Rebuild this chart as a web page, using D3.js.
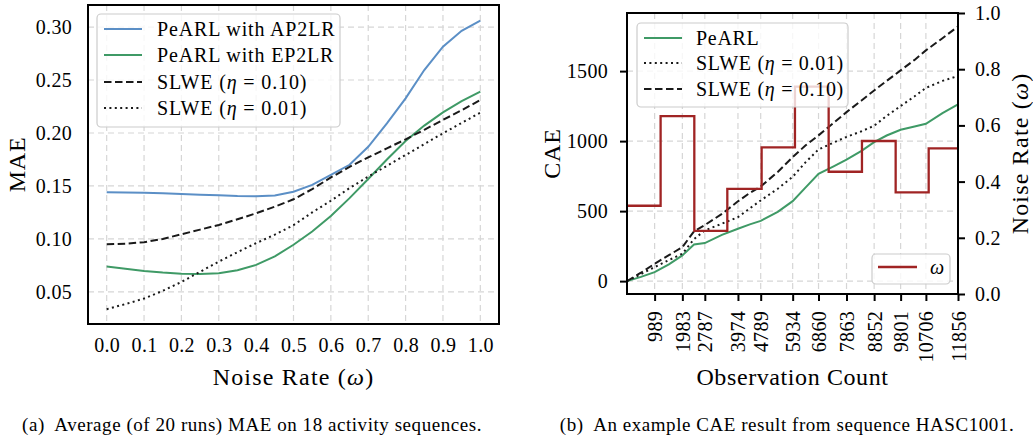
<!DOCTYPE html>
<html>
<head>
<meta charset="utf-8">
<script src="https://cdn.jsdelivr.net/npm/d3@7"></script>
<style>
  body { margin: 0; background: #fff; }
  svg text { font-family: "Liberation Serif", "LiberationSerif", "Tinos", "Nimbus Roman", "DejaVu Serif", serif; fill: #000; }
</style>
</head>
<body>
<div id="chart"></div>
<script>
// ---- left panel: MAE vs noise rate ----
const noiseRates = [0, 0.05, 0.1, 0.15, 0.2, 0.25, 0.3, 0.35, 0.4, 0.45, 0.5, 0.55, 0.6, 0.65, 0.7, 0.75, 0.8, 0.85, 0.9, 0.95, 1.0];
const maeAP2LR = [0.1440, 0.1438, 0.1435, 0.1430, 0.1425, 0.1418, 0.1412, 0.1405, 0.1402, 0.1410, 0.1446, 0.1510, 0.1604, 0.1700, 0.1870, 0.2090, 0.2327, 0.2594, 0.2814, 0.2965, 0.3060];
const maeEP2LR = [0.0739, 0.0718, 0.0698, 0.0683, 0.0672, 0.0668, 0.0676, 0.0705, 0.0755, 0.0835, 0.0945, 0.1070, 0.1217, 0.1385, 0.1565, 0.1750, 0.1925, 0.2070, 0.2195, 0.2300, 0.2390];
const maeSlwe010 = [0.0950, 0.0955, 0.0969, 0.1000, 0.1044, 0.1088, 0.1132, 0.1185, 0.1242, 0.1305, 0.1374, 0.1470, 0.1580, 0.1680, 0.1770, 0.1855, 0.1940, 0.2030, 0.2123, 0.2215, 0.2311];
const maeSlwe001 = [0.0337, 0.0385, 0.0437, 0.0510, 0.0594, 0.0690, 0.0786, 0.0875, 0.0960, 0.1040, 0.1130, 0.1250, 0.1360, 0.1480, 0.1588, 0.1690, 0.1792, 0.1895, 0.1997, 0.2095, 0.2192];
const maeTicks = [0.05, 0.10, 0.15, 0.20, 0.25, 0.30];
const noiseTicks = [0, 0.1, 0.2, 0.3, 0.4, 0.5, 0.6, 0.7, 0.8, 0.9, 1.0];

// ---- right panel: CAE vs observation count ----
const obsCount = [0, 500, 989, 1500, 1983, 2400, 2787, 3400, 3974, 4400, 4789, 5400, 5934, 6400, 6860, 7400, 7863, 8400, 8852, 9300, 9801, 10300, 10706, 11300, 11856];
const caePeARL = [0, 30, 64, 120, 184, 262, 272, 330, 374, 405, 430, 495, 571, 670, 767, 820, 867, 930, 993, 1040, 1081, 1105, 1124, 1200, 1262];
const caeSlwe001 = [0, 50, 100, 150, 196, 300, 362, 410, 457, 520, 576, 660, 745, 850, 940, 990, 1030, 1070, 1110, 1180, 1250, 1320, 1380, 1430, 1465];
const caeSlwe010 = [0, 60, 124, 185, 243, 355, 400, 480, 570, 630, 676, 780, 886, 970, 1041, 1130, 1207, 1290, 1362, 1430, 1505, 1580, 1648, 1735, 1819];
const stepBounds = [0, 1204, 2411, 3593, 4822, 6016, 7223, 8416, 9623, 10806, 11856];
const stepNoise = [0.314, 0.633, 0.225, 0.374, 0.522, 0.738, 0.435, 0.5445, 0.362, 0.5185];
const obsTicks = [989, 1983, 2787, 3974, 4789, 5934, 6860, 7863, 8852, 9801, 10706, 11856];
const caeTicks = [0, 500, 1000, 1500];
const rateTicks = [0, 0.2, 0.4, 0.6, 0.8, 1.0];

const BLUE = "#5b8fc6", GREEN = "#3f9a66", RED = "#a02424", BLACK = "#1a1a1a", GRID = "#d6d6d6";
const SERIF = '"Liberation Serif", "LiberationSerif", "Tinos", "Nimbus Roman", "DejaVu Serif", serif';

const svg = d3.select("#chart").append("svg")
    .attr("width", 1033)
    .attr("height", 436)
    .style("font-family", SERIF);

const fmt2 = d3.format(".2f"), fmt1 = d3.format(".1f");

function addLegend(g, x0, y0, w, h, items, spacing) {
    g.append("rect")
        .attr("x", x0).attr("y", y0).attr("width", w).attr("height", h)
        .attr("rx", 4)
        .attr("fill", "white").attr("fill-opacity", 0.8)
        .attr("stroke", "#cccccc").attr("stroke-width", 1.2);
    items.forEach(it => {
        g.append("line")
            .attr("x1", it.hx1).attr("x2", it.hx2).attr("y1", it.y).attr("y2", it.y)
            .attr("stroke", it.color).attr("stroke-width", it.width || 2)
            .attr("stroke-dasharray", it.dash || null);
        const t = g.append("text")
            .attr("x", it.tx).attr("y", it.y)
            .attr("dy", "0.35em")
            .style("font-family", SERIF)
            .style("font-size", "20px")
            .style("letter-spacing", spacing + "px");
        it.parts.forEach(p => t.append("tspan").style("font-style", p.italic ? "italic" : null).text(p.s));
    });
}

// ================= LEFT =================
(function () {
    const left = 88, right = 499, top = 5, bottom = 324;
    const x = d3.scaleLinear().domain([-0.05, 1.05]).range([left, right]);
    const y = d3.scaleLinear().domain([0.0197, 0.3208]).range([bottom, top]);
    const g = svg.append("g");

    // grid
    g.selectAll(".vg").data(noiseTicks).join("line")
        .attr("x1", d => x(d)).attr("x2", d => x(d)).attr("y1", top).attr("y2", bottom)
        .attr("stroke", GRID).attr("stroke-width", 1.2).attr("stroke-dasharray", "6,4");
    g.selectAll(".hg").data(maeTicks).join("line")
        .attr("x1", left).attr("x2", right).attr("y1", d => y(d)).attr("y2", d => y(d))
        .attr("stroke", GRID).attr("stroke-width", 1.2).attr("stroke-dasharray", "6,4");

    const line = vals => d3.line().x((d, i) => x(noiseRates[i])).y(d => y(d))(vals);
    const series = [
        { v: maeAP2LR, c: BLUE, dash: null },
        { v: maeEP2LR, c: GREEN, dash: null },
        { v: maeSlwe010, c: BLACK, dash: "7.5,3.5" },
        { v: maeSlwe001, c: BLACK, dash: "2,3.4" }
    ];
    series.forEach(s => {
        g.append("path").attr("d", line(s.v)).attr("fill", "none")
            .attr("stroke", s.c).attr("stroke-width", 2)
            .attr("stroke-dasharray", s.dash);
    });

    // frame
    g.append("rect").attr("x", left).attr("y", top).attr("width", right - left).attr("height", bottom - top)
        .attr("fill", "none").attr("stroke", "#000").attr("stroke-width", 2);

    // axes (no tick marks)
    const xa = g.append("g").attr("transform", `translate(0,${bottom})`)
        .call(d3.axisBottom(x).tickValues(noiseTicks).tickFormat(fmt1).tickSize(0).tickPadding(14));
    const ya = g.append("g").attr("transform", `translate(${left},0)`)
        .call(d3.axisLeft(y).tickValues(maeTicks).tickFormat(fmt2).tickSize(0).tickPadding(16));
    [xa, ya].forEach(a => {
        a.attr("font-family", null).attr("font-size", null);
        a.select(".domain").remove();
        a.selectAll("text").style("font-size", "20px").style("font-family", SERIF).style("letter-spacing", "0.3px");
    });

    const xl = g.append("text").attr("x", (left + right) / 2).attr("y", 385)
        .attr("text-anchor", "middle").style("font-size", "24px").style("letter-spacing", "1.2px");
    xl.append("tspan").text("Noise Rate (");
    xl.append("tspan").style("font-style", "italic").text("ω");
    xl.append("tspan").text(")");

    g.append("text").attr("transform", `translate(25,${(top + bottom) / 2}) rotate(-90)`)
        .attr("text-anchor", "middle").style("font-size", "24px").style("letter-spacing", "0.8px").text("MAE");

    addLegend(g, 97, 14, 243, 113, [
        { y: 29, hx1: 104, hx2: 142, tx: 157, color: BLUE, parts: [{ s: "PeARL with AP2LR" }] },
        { y: 55, hx1: 104, hx2: 142, tx: 157, color: GREEN, parts: [{ s: "PeARL with EP2LR" }] },
        { y: 82, hx1: 104, hx2: 142, tx: 157, color: BLACK, dash: "7.5,3.5", parts: [{ s: "SLWE (" }, { s: "η", italic: true }, { s: " = 0.10)" }] },
        { y: 108, hx1: 104, hx2: 142, tx: 157, color: BLACK, dash: "2,3.4", parts: [{ s: "SLWE (" }, { s: "η", italic: true }, { s: " = 0.01)" }] }
    ], 0.85);

    g.append("text").attr("x", 252).attr("y", 431).attr("text-anchor", "middle")
        .style("font-size", "19px").style("letter-spacing", "0.55px").style("white-space", "pre")
        .text("(a)  Average (of 20 runs) MAE on 18 activity sequences.");
})();

// ================= RIGHT =================
(function () {
    const left = 627, right = 958, top = 13, bottom = 294;
    const x = d3.scaleLinear().domain([0, 11856]).range([left, right]);
    const y = d3.scaleLinear().domain([-92, 1915]).range([bottom, top]);
    const y2 = d3.scaleLinear().domain([0, 1]).range([bottom, top]);
    const g = svg.append("g");

    g.selectAll(".vg").data(obsTicks).join("line")
        .attr("x1", d => x(d)).attr("x2", d => x(d)).attr("y1", top).attr("y2", bottom)
        .attr("stroke", GRID).attr("stroke-width", 1.2).attr("stroke-dasharray", "6,4");
    g.selectAll(".hg").data(caeTicks).join("line")
        .attr("x1", left).attr("x2", right).attr("y1", d => y(d)).attr("y2", d => y(d))
        .attr("stroke", GRID).attr("stroke-width", 1.2).attr("stroke-dasharray", "6,4");

    const line = vals => d3.line().x((d, i) => x(obsCount[i])).y(d => y(d))(vals);
    [
        { v: caePeARL, c: GREEN, dash: null },
        { v: caeSlwe001, c: BLACK, dash: "2,3.4" },
        { v: caeSlwe010, c: BLACK, dash: "7.5,3.5" }
    ].forEach(s => {
        g.append("path").attr("d", line(s.v)).attr("fill", "none")
            .attr("stroke", s.c).attr("stroke-width", 2)
            .attr("stroke-dasharray", s.dash);
    });

    // noise-rate step line on twin axis
    const stepPts = [];
    stepNoise.forEach((v, i) => {
        stepPts.push([stepBounds[i], v]);
        stepPts.push([stepBounds[i + 1], v]);
    });
    g.append("path")
        .attr("d", d3.line().x(d => x(d[0])).y(d => y2(d[1]))(stepPts))
        .attr("fill", "none").attr("stroke", RED).attr("stroke-width", 2.3);

    g.append("rect").attr("x", left).attr("y", top).attr("width", right - left).attr("height", bottom - top)
        .attr("fill", "none").attr("stroke", "#000").attr("stroke-width", 2);

    const xa = g.append("g").attr("transform", `translate(0,${bottom})`)
        .call(d3.axisBottom(x).tickValues(obsTicks).tickFormat(d3.format("d")).tickSize(7).tickSizeOuter(0));
    xa.selectAll("text")
        .attr("transform", "rotate(-90)")
        .attr("x", -17).attr("y", 0).attr("dy", "0.35em")
        .attr("text-anchor", "end");
    const ya = g.append("g").attr("transform", `translate(${left},0)`)
        .call(d3.axisLeft(y).tickValues(caeTicks).tickFormat(d3.format("d")).tickSize(7).tickSizeOuter(0).tickPadding(12));
    const ya2 = g.append("g").attr("transform", `translate(${right},0)`)
        .call(d3.axisRight(y2).tickValues(rateTicks).tickFormat(fmt1).tickSize(7).tickSizeOuter(0).tickPadding(10));
    [xa, ya, ya2].forEach(a => {
        a.attr("font-family", null).attr("font-size", null);
        a.select(".domain").remove();
        a.selectAll(".tick line").attr("stroke", "#000").attr("stroke-width", 2);
        a.selectAll("text").style("font-size", "20px").style("font-family", SERIF).style("letter-spacing", "0.3px");
    });

    g.append("text").attr("x", (left + right) / 2).attr("y", 385)
        .attr("text-anchor", "middle").style("font-size", "24px").style("letter-spacing", "0.6px")
        .text("Observation Count");
    g.append("text").attr("transform", `translate(560,${(top + bottom) / 2}) rotate(-90)`)
        .attr("text-anchor", "middle").style("font-size", "24px").style("letter-spacing", "0.8px").text("CAE");
    const rl = g.append("text").attr("transform", `translate(1028,${(top + bottom) / 2}) rotate(-90)`)
        .attr("text-anchor", "middle").style("font-size", "24px").style("letter-spacing", "1.2px");
    rl.append("tspan").text("Noise Rate (");
    rl.append("tspan").style("font-style", "italic").text("ω");
    rl.append("tspan").text(")");

    addLegend(g, 637, 23, 211, 84, [
        { y: 38, hx1: 644, hx2: 682, tx: 696, color: GREEN, parts: [{ s: "PeARL" }] },
        { y: 63, hx1: 644, hx2: 682, tx: 696, color: BLACK, dash: "2,3.4", parts: [{ s: "SLWE (" }, { s: "η", italic: true }, { s: " = 0.01)" }] },
        { y: 89, hx1: 644, hx2: 682, tx: 696, color: BLACK, dash: "7.5,3.5", parts: [{ s: "SLWE (" }, { s: "η", italic: true }, { s: " = 0.10)" }] }
    ], 0.7);
    addLegend(g, 872, 254, 78, 30, [
        { y: 267, hx1: 878, hx2: 917, tx: 930, color: RED, width: 2.3, parts: [{ s: "ω", italic: true }] }
    ], 0);

    g.append("text").attr("x", 787).attr("y", 431).attr("text-anchor", "middle")
        .style("font-size", "19px").style("letter-spacing", "0.55px").style("white-space", "pre")
        .text("(b)  An example CAE result from sequence HASC1001.");
})();
</script>
</body>
</html>
